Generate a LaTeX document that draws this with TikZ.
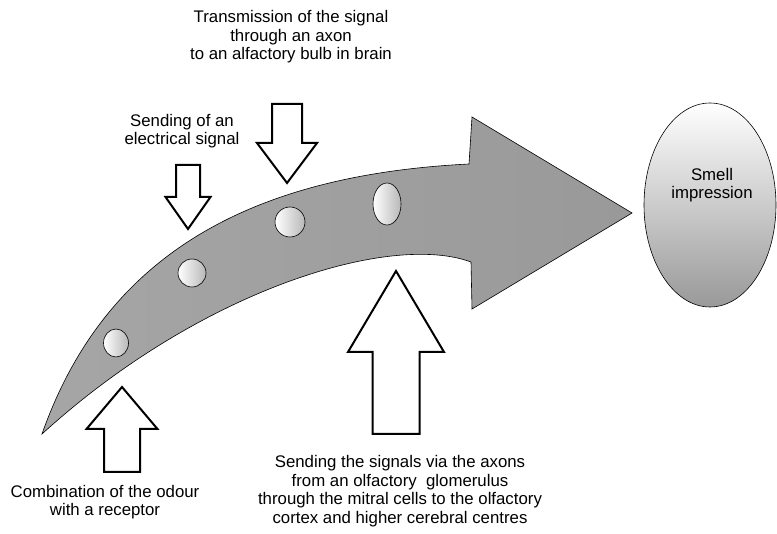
\documentclass[tikz,border=0pt]{standalone}
\usepackage{fontspec}
\setmainfont{Liberation Sans}
\usetikzlibrary{shapes,arrows,positioning,calc}

\tikzset{
  block/.style={draw=black, line width=2pt, fill=white, line join=miter},
  cell/.style={draw=black, line width=0.6pt, left color=white, right color=black!28},
  note/.style={font=\fontsize{16.8}{18.5}\selectfont, align=center, inner sep=0pt}
}

\begin{document}
\begin{tikzpicture}[x=1pt, y=-1pt]
\useasboundingbox (0,0) rectangle (777,534);

% Pathway
\draw[line width=0.6pt, left color=black!35, right color=black!40]
  (42,434) .. controls (105,255) and (250,175) .. (469,164) -- (472,117) -- (632,213)
  -- (472,309) -- (471,262) .. controls (390,232) and (200,290) .. (42,434) -- cycle;

% Receptor cells
\foreach \x/\y/\rx/\ry in {116/343/12.5/14, 192/273/14/14, 290/222/15/15, 387/204/14/21}
    \draw[cell] (\x,\y) ellipse [x radius=\rx pt, y radius=\ry pt];

% Stimulus arrows
\foreach \tx/\ty/\hy/\hw/\sw/\ey in {122/387/429/35.5/18/472, 188/229/197/22.5/12/165,
                                     287/183/143/30/15/104, 396/271/352/48/23.5/434}
    \draw[block] (\tx-\sw,\ey) -- (\tx-\sw,\hy) -- (\tx-\hw,\hy) -- (\tx,\ty)
      -- (\tx+\hw,\hy) -- (\tx+\sw,\hy) -- (\tx+\sw,\ey) -- cycle;

% Smell impression
\node[ellipse, draw, line width=0.6pt, top color=white, bottom color=black!40,
      minimum width=132pt, minimum height=204pt, inner sep=0pt] (smell) at (710,205) {};
\node[note] (smelltxt) at (712,185) {Smell\\impression};

% Texts
\node[note] (transmit) at (291,37) {Transmission of the signal\\through an axon\\to an alfactory bulb in brain};
\node[note] (electric) at (182,131) {Sending of an\\electrical signal};
\node[note] (bind) at (105,502) {Combination of the odour\\with a receptor};
\node[note] (relay) at (400,491) {Sending the signals via the axons\\from an olfactory \ glomerulus\\through the mitral cells to the olfactory\\cortex and higher cerebral centres};
\end{tikzpicture}
\end{document}
